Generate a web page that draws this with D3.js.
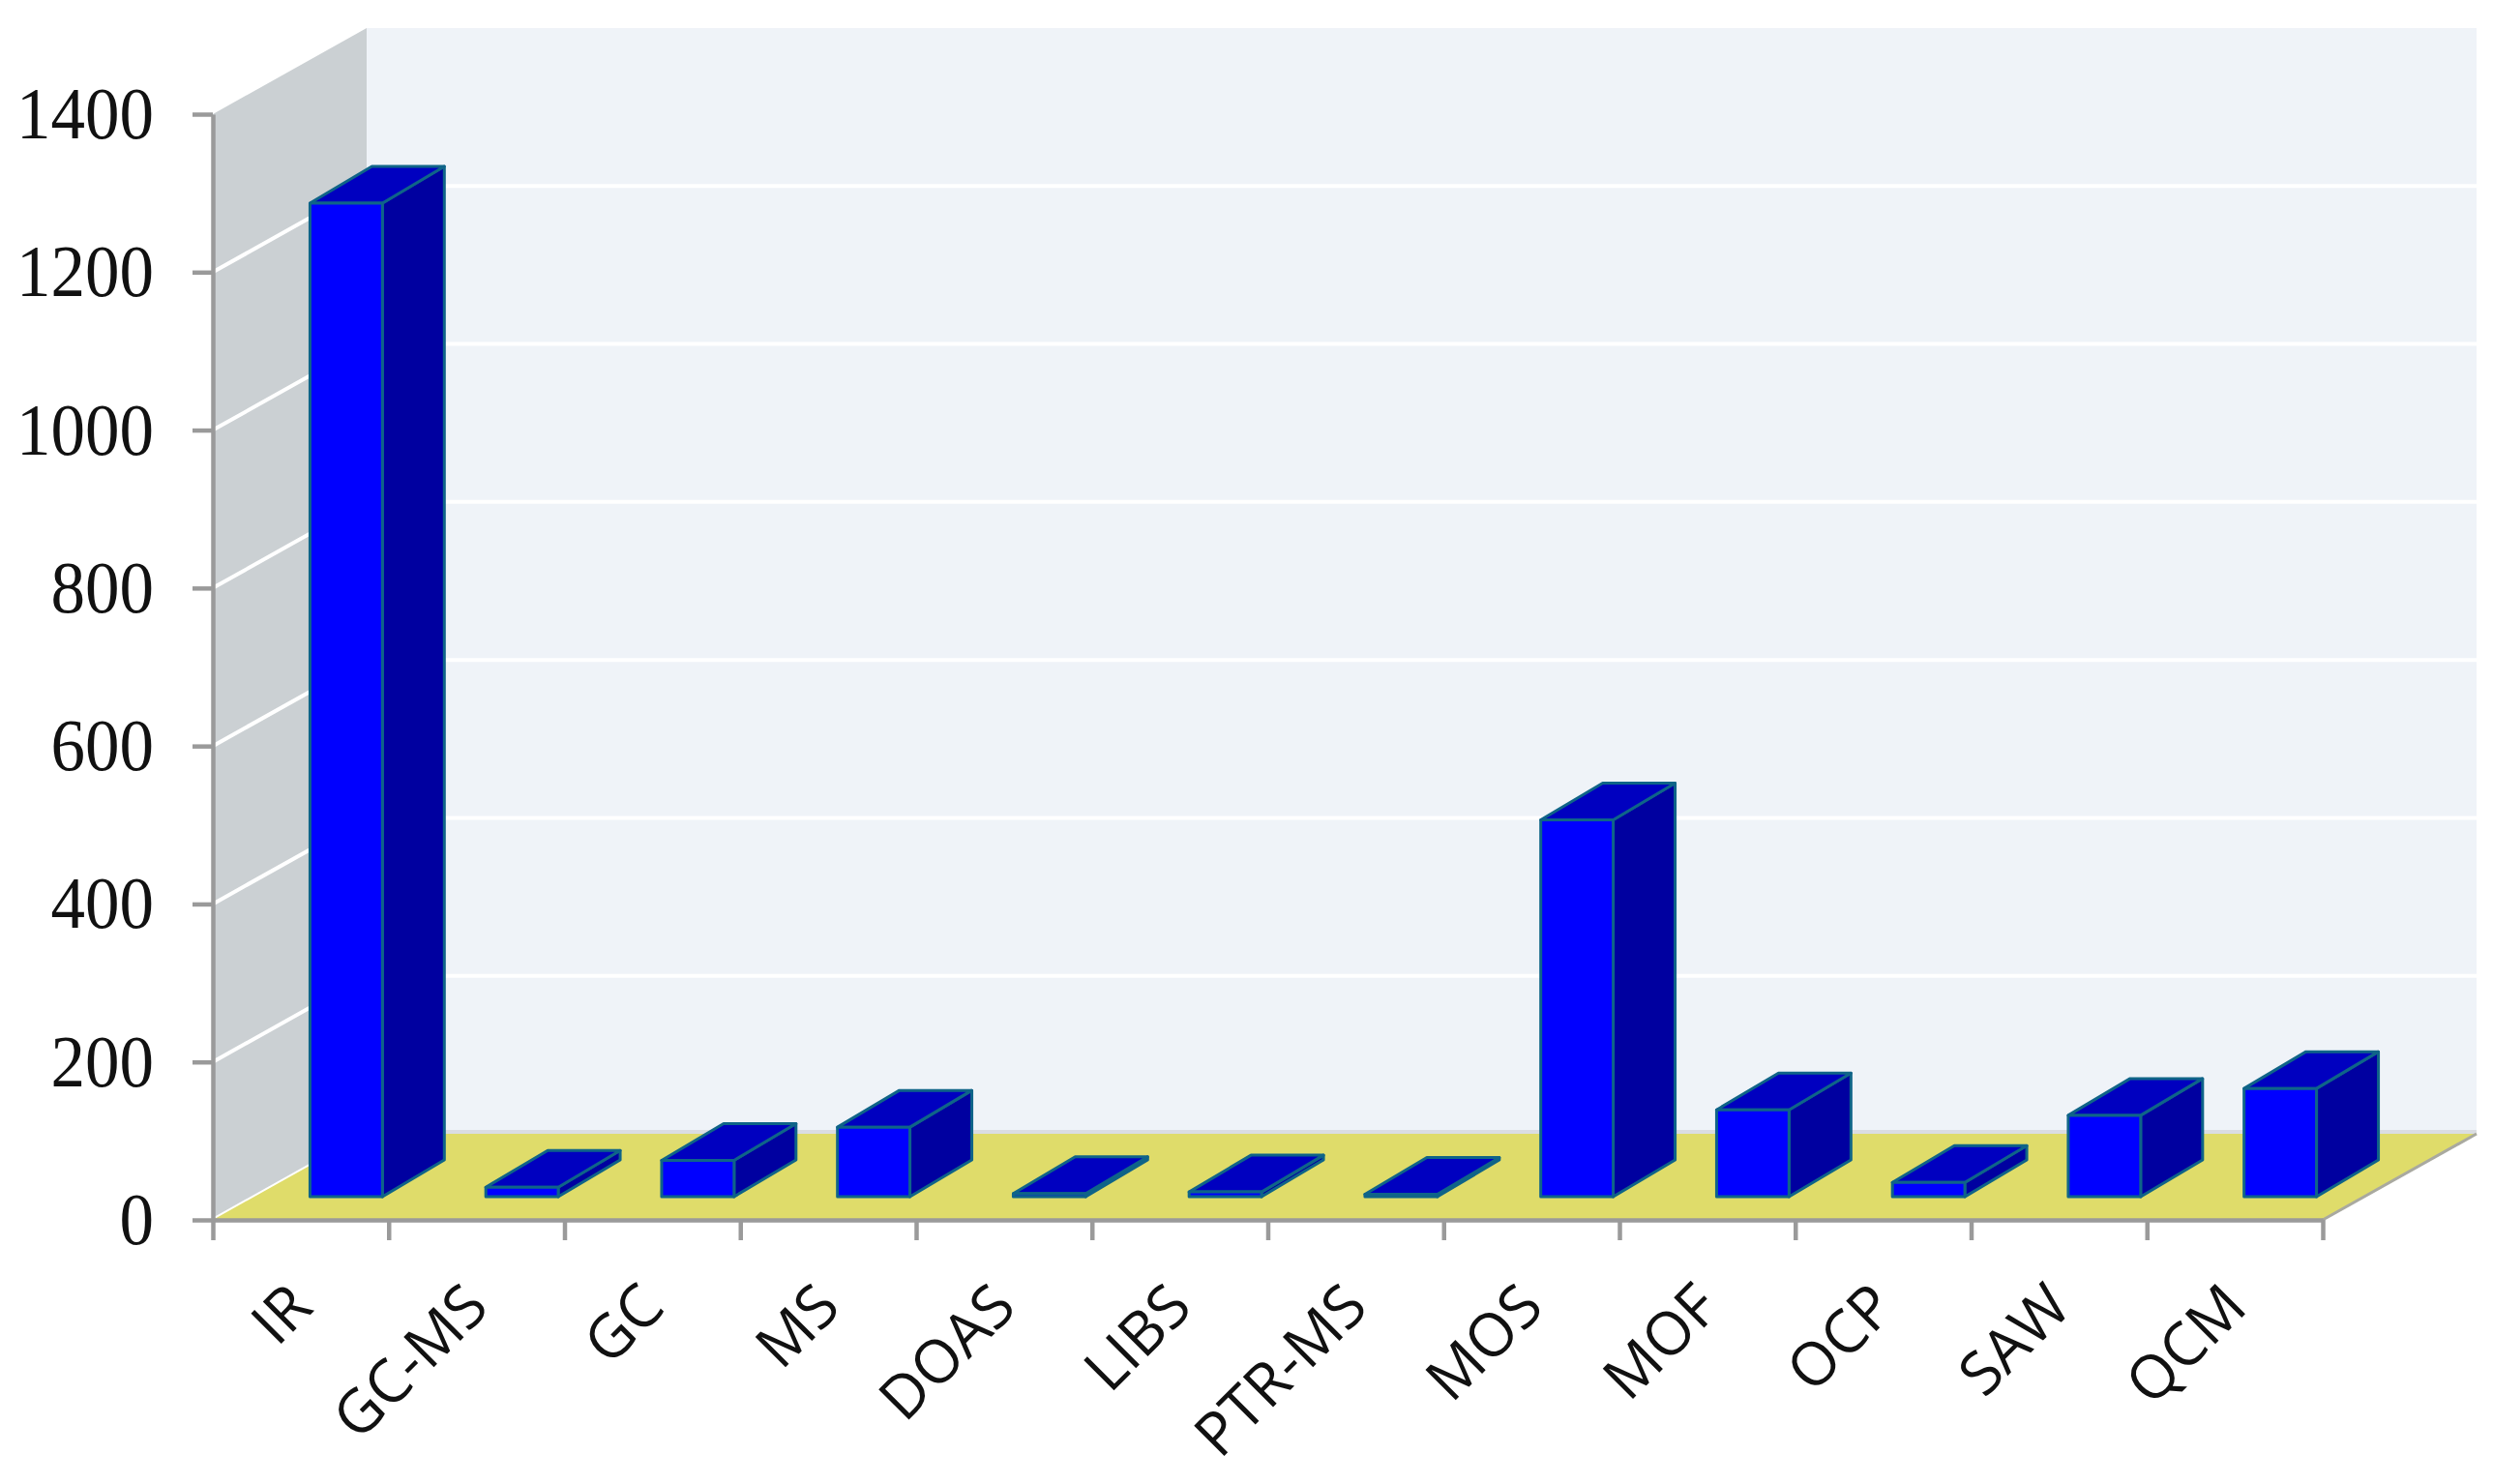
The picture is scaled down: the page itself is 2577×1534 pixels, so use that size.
<!DOCTYPE html>
<html>
<head>
<meta charset="utf-8">
<script src="https://cdnjs.cloudflare.com/ajax/libs/d3/7.8.5/d3.min.js"></script>
<style>
  body { margin: 0; background: #fff; }
  svg { display: block; }
  .domain, .tick line { stroke: #9a9a9a; stroke-width: 4.5; }
  .y.axis text { font-family: "Liberation Serif", serif; font-size: 71px; fill: #111; }
  .label { font-family: "Open Sans", sans-serif; font-size: 62px; fill: #111; }
  .bar polygon { stroke: #0f6488; stroke-width: 3; stroke-linejoin: round; }
</style>
</head>
<body>
<div id="chart"></div>
<script>
var categories = ["IR", "GC-MS", "GC", "MS", "DOAS", "LIBS", "PTR-MS", "MOS", "MOF", "OCP", "SAW", "QCM"]
var counts = [1258, 12, 46, 88, 4, 6, 3, 477, 110, 18, 103, 137]
var yTicks = [0, 200, 400, 600, 800, 1000, 1200, 1400]

var width = 2577, height = 1534
var left = 220, right = 2401, top0 = 118, bottom = 1261

// how far the back wall sits from the front plane
var depthX = 159, depthY = 89
// bars sit a bit behind the front edge, and have their own depth
var barOffX = 47, barOffY = 24
var barDepthX = 64, barDepthY = 38

var x = d3.scaleBand()
    .domain(categories)
    .range([left, right])
    .paddingInner(0.588)
    .paddingOuter(0.294)

var xEdges = d3.scaleLinear()
    .domain([0, categories.length])
    .range([left, right])

var y = d3.scaleLinear()
    .domain([0, 1400])
    .range([bottom, top0])

function pts(list) {
  return list.map(function(p) { return p[0] + "," + p[1] }).join(" ")
}

var svg = d3.select("#chart")
    .append("svg")
      .attr("width", width)
      .attr("height", height)

// Back wall
svg.append("rect")
    .attr("x", left + depthX)
    .attr("y", top0 - depthY)
    .attr("width", right - left)
    .attr("height", bottom - top0)
    .attr("fill", "#eff3f8")

// Left wall
svg.append("polygon")
    .attr("points", pts([
      [left, y(1400)], [left + depthX, y(1400) - depthY],
      [left + depthX, y(0) - depthY], [left, y(0)]
    ]))
    .attr("fill", "#cbd0d3")

// Grid lines, on both walls
var grid = svg.append("g")
grid.selectAll(".gridBack")
    .data(yTicks.slice(1, -1))
  .enter().append("line")
    .attr("x1", left + depthX)
    .attr("x2", right + depthX)
    .attr("y1", function(d) { return y(d) - depthY })
    .attr("y2", function(d) { return y(d) - depthY })
    .attr("stroke", "#fff")
    .attr("stroke-width", 4)
grid.selectAll(".gridSide")
    .data(yTicks.slice(0, -1))
  .enter().append("line")
    .attr("x1", left)
    .attr("x2", left + depthX)
    .attr("y1", function(d) { return y(d) })
    .attr("y2", function(d) { return y(d) - depthY })
    .attr("stroke", "#fff")
    .attr("stroke-width", 4)

// Floor
svg.append("line")
    .attr("x1", left + depthX)
    .attr("x2", right + depthX)
    .attr("y1", y(0) - depthY - 2)
    .attr("y2", y(0) - depthY - 2)
    .attr("stroke", "#dadde1")
    .attr("stroke-width", 4)
svg.append("polygon")
    .attr("points", pts([
      [left, y(0)], [right, y(0)],
      [right + depthX, y(0) - depthY], [left + depthX, y(0) - depthY]
    ]))
    .attr("fill", "#dfdc6a")
svg.append("line")
    .attr("x1", right)
    .attr("y1", y(0))
    .attr("x2", right + depthX)
    .attr("y2", y(0) - depthY)
    .attr("stroke", "#a9a9a0")
    .attr("stroke-width", 3)

// Bars
var bars = svg.selectAll(".bar")
    .data(categories)
  .enter().append("g")
    .classed("bar", true)
    .attr("transform", "translate(" + barOffX + "," + (-barOffY) + ")")

bars.append("polygon")
    .attr("fill", "#0000a0")
    .attr("points", function(d, i) {
      var r = x(d) + x.bandwidth()
      return pts([
        [r, y(0)], [r + barDepthX, y(0) - barDepthY],
        [r + barDepthX, y(counts[i]) - barDepthY], [r, y(counts[i])]
      ])
    })

bars.append("polygon")
    .attr("fill", "#0000c0")
    .attr("points", function(d, i) {
      var l = x(d), r = l + x.bandwidth(), t = y(counts[i])
      return pts([
        [l, t], [r, t],
        [r + barDepthX, t - barDepthY], [l + barDepthX, t - barDepthY]
      ])
    })

bars.append("polygon")
    .attr("fill", "#0000ff")
    .attr("points", function(d, i) {
      var l = x(d), r = l + x.bandwidth(), t = y(counts[i])
      return pts([[l, y(0)], [r, y(0)], [r, t], [l, t]])
    })

// y axis
var yAxis = d3.axisLeft(y)
    .tickValues(yTicks)
    .tickSize(21)
    .tickSizeOuter(0)
    .tickPadding(40)
    .tickFormat(d3.format("d"))

svg.append("g")
    .classed("y axis", true)
    .attr("transform", "translate(" + left + ",0)")
    .call(yAxis)

// digits in the reference are a bit taller than they are wide
svg.selectAll(".y.axis text")
    .attr("transform", "scale(1,1.08)")

// x axis, ticks on the band edges
var xAxis = d3.axisBottom(xEdges)
    .tickValues(d3.range(categories.length + 1))
    .tickSize(21)
    .tickSizeOuter(0)
    .tickFormat("")

svg.append("g")
    .classed("x axis", true)
    .attr("transform", "translate(0," + bottom + ")")
    .call(xAxis)

// rotated category labels
svg.selectAll(".label")
    .data(categories)
  .enter().append("text")
    .classed("label", true)
    .attr("text-anchor", "end")
    .attr("transform", function(d) {
      return "translate(" + (x(d) + x.bandwidth() / 2 + 15) + ",1354) rotate(-45)"
    })
    .text(function(d) { return d })
</script>
</body>
</html>
